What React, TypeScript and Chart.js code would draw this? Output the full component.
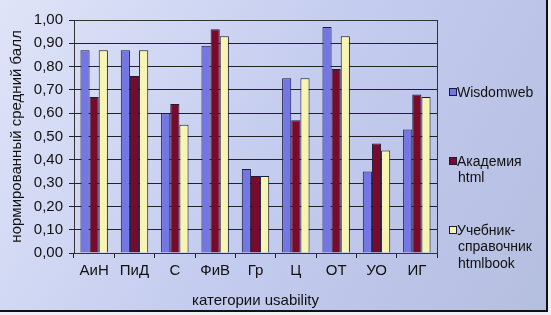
import React, { useEffect, useRef } from "react";
import { Chart, registerables } from "chart.js";

Chart.register(...registerables);

const categories = ["АиН", "ПиД", "С", "ФиВ", "Гр", "Ц", "ОТ", "УО", "ИГ"];
const wisdomweb = [0.87, 0.87, 0.60, 0.89, 0.36, 0.75, 0.97, 0.35, 0.53];
const akademia = [0.67, 0.76, 0.64, 0.96, 0.33, 0.57, 0.79, 0.47, 0.68];
const htmlbook = [0.87, 0.87, 0.55, 0.93, 0.33, 0.75, 0.93, 0.44, 0.67];
const seriesLabels = [["Wisdomweb"], ["Академия", "html"], ["Учебник-", "справочник", "htmlbook"]];
const yTitle = "нормированный средний балл";
const xTitle = "категории usability";

const FONT = "Arial, 'Liberation Sans', sans-serif";

export default function App() {
  const ref = useRef<HTMLCanvasElement>(null);
  useEffect(() => {
    document.body.style.margin = "0";
    const bgPlugin = {
      id: "bg",
      beforeDraw(chart: any) {
        const { ctx, width, height } = chart;
        ctx.save();
        const g = ctx.createLinearGradient(0, 0, width, height);
        g.addColorStop(0, "#dfe4f8");
        g.addColorStop(0.5, "#c4ccef");
        g.addColorStop(1, "#b4bedf");
        ctx.fillStyle = g;
        ctx.fillRect(0, 0, width, height);
        ctx.restore();
      },
      afterDraw(chart: any) {
        const { ctx, chartArea: a, width, height } = chart;
        ctx.save();
        ctx.strokeStyle = "#333";
        ctx.lineWidth = 1;
        ctx.strokeRect(Math.round(a.left) + 0.5, Math.round(a.top) + 0.5, Math.round(a.right - a.left), Math.round(a.bottom - a.top));
        // outer frame
        ctx.strokeStyle = "#111";
        ctx.lineWidth = 2;
        ctx.beginPath();
        ctx.moveTo(0, height - 4);
        ctx.lineTo(width - 4, height - 4);
        ctx.lineTo(width - 4, 0);
        ctx.stroke();
        ctx.fillStyle = "#eef0f6";
        ctx.fillRect(width - 3, 0, 3, height);
        ctx.fillRect(0, height - 3, width, 3);
        // legend
        const ys = [93, 162, 231];
        ctx.font = `14px ${FONT}`;
        ctx.textBaseline = "middle";
        chart.data.datasets.forEach((ds: any, i: number) => {
          const y = ys[i];
          ctx.fillStyle = ds.backgroundColor;
          ctx.fillRect(449.5, y - 4.5, 7, 7);
          ctx.strokeStyle = "#1a1a3a";
          ctx.lineWidth = 1;
          ctx.strokeRect(449.5, y - 4.5, 7, 7);
          ctx.fillStyle = "#111";
          seriesLabels[i].forEach((line, j) => {
            ctx.fillText(line, j === 0 ? 457 : 458, y + j * 16.5);
          });
        });
        ctx.restore();
      },
    };
    const chart = new Chart(ref.current!, {
      type: "bar",
      data: {
        labels: categories,
        datasets: [
          { label: "Wisdomweb", data: wisdomweb, backgroundColor: "#7476e4", borderColor: "#1a1a3a", borderWidth: 1 },
          { label: "Академия html", data: akademia, backgroundColor: "#7a0a2c", borderColor: "#1a1a3a", borderWidth: 1 },
          { label: "Учебник-справочник htmlbook", data: htmlbook, backgroundColor: "#f8f4b2", borderColor: "#1a1a3a", borderWidth: 1 },
        ],
      },
      options: {
        animation: false,
        responsive: false,
        layout: { padding: { left: 0, top: 20, right: 114, bottom: 0 } },
        plugins: { legend: { display: false }, tooltip: { enabled: false } },
        datasets: { bar: { categoryPercentage: 0.68, barPercentage: 1 } },
        scales: {
          x: {
            grid: { display: true, drawOnChartArea: false, drawTicks: true, tickLength: 5, color: "#222", offset: true },
            border: { color: "#222" },
            ticks: { color: "#111", font: { family: FONT, size: 15 }, padding: 4 },
            title: { display: true, text: xTitle, color: "#111", font: { family: FONT, size: 15 }, padding: { top: 6, bottom: 5 } },
            afterFit: (s: any) => { s.height = 62; },
          },
          y: {
            min: 0,
            max: 1,
            grid: { color: "#222", tickLength: 5 },
            border: { color: "#222" },
            ticks: {
              stepSize: 0.1,
              color: "#111",
              font: { family: FONT, size: 15 },
              padding: 6,
              callback: (v: any) => Number(v).toFixed(2).replace(".", ","),
            },
            title: { display: true, text: yTitle, color: "#111", font: { family: FONT, size: 15 }, padding: { top: 8, bottom: 0 } },
            afterFit: (s: any) => { s.width = 74; },
          },
        },
      },
      plugins: [bgPlugin],
    });
    return () => chart.destroy();
  }, []);
  return (
    <div style={{ position: "fixed", left: 0, top: 0, width: 551, height: 315 }}>
      <canvas ref={ref} width={551} height={315} style={{ display: "block" }} />
    </div>
  );
}
